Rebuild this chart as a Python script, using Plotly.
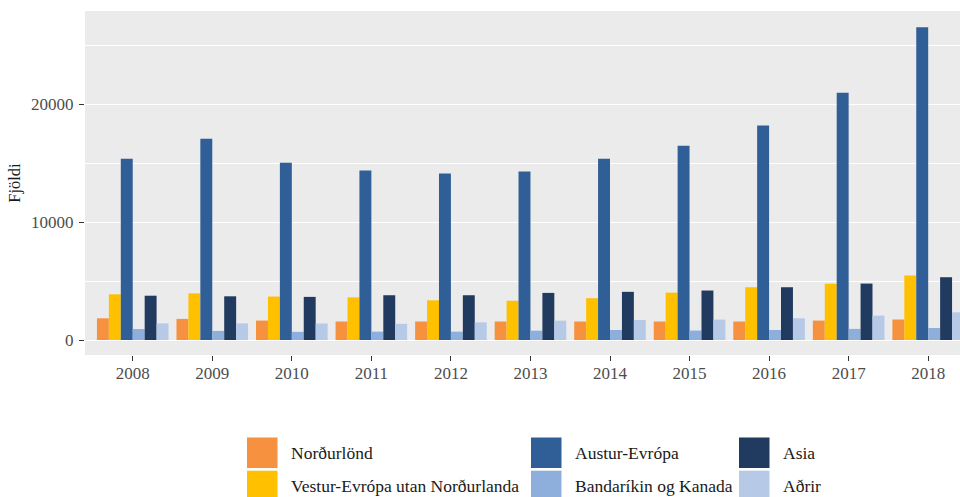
import plotly.graph_objects as go

years = ["2008", "2009", "2010", "2011", "2012", "2013", "2014", "2015", "2016", "2017", "2018"]
series_names = ["Norðurlönd", "Vestur-Evrópa utan Norðurlanda", "Austur-Evrópa",
                "Bandaríkin og Kanada", "Asia", "Aðrir"]
nordurlond = [1840, 1790, 1650, 1570, 1570, 1570, 1570, 1570, 1570, 1650, 1740]
vestur_evropa = [3880, 3960, 3690, 3620, 3370, 3330, 3550, 4020, 4480, 4780, 5470]
austur_evropa = [15380, 17080, 15040, 14380, 14130, 14300, 15380, 16500, 18200, 21000, 26550]
bandarikin = [930, 770, 690, 710, 710, 790, 850, 800, 850, 940, 1020]
asia = [3760, 3710, 3660, 3800, 3800, 4000, 4090, 4200, 4480, 4790, 5330]
adrir = [1410, 1410, 1400, 1370, 1500, 1640, 1700, 1730, 1840, 2070, 2350]
values = [nordurlond, vestur_evropa, austur_evropa, bandarikin, asia, adrir]
colors = ["#F5913F", "#FFC000", "#305E96", "#8EAEDB", "#213B60", "#B6C9E7"]
y_ticks = [0, 10000, 20000]

W, H = 960, 497
ML, MR, MT, MB = 85, 0, 11, 142

fig = go.Figure()
for name, vals, col in zip(series_names, values, colors):
    fig.add_trace(go.Bar(x=years, y=vals, name=name, marker=dict(color=col, line=dict(width=0)),
                         showlegend=False))

font_family = "Liberation Serif, Times New Roman, serif"

fig.update_layout(
    width=W, height=H,
    margin=dict(l=ML, r=MR, t=MT, b=MB),
    paper_bgcolor="white",
    plot_bgcolor="#EBEBEB",
    barmode="group", bargap=0.1, bargroupgap=0,
    font=dict(family=font_family, size=16, color="#4D4D4D"),
    xaxis=dict(type="category", range=[-0.6, 10.4], showgrid=False, zeroline=False,
               ticks="outside", ticklen=5, tickwidth=1.2, tickcolor="#333333",
               tickfont=dict(size=17, color="#4D4D4D"), showline=False,
               ticklabelstandoff=-2),
    yaxis=dict(range=[-1273, 27930], tickvals=y_ticks, ticktext=[str(v) for v in y_ticks],
               showgrid=True, gridcolor="white", gridwidth=1.1, zeroline=False,
               ticks="outside", ticklen=5, tickwidth=1.2, tickcolor="#333333",
               tickfont=dict(size=17, color="#4D4D4D"), ticklabelstandoff=2,
               minor=dict(tickvals=[5000, 15000, 25000], showgrid=True, gridcolor="white",
                          gridwidth=0.55, ticks=""),
               title=dict(text="Fjöldi", font=dict(size=16.5, color="#1A1A1A"), standoff=6)),
)

# manual legend (3 columns x 2 rows, column-major order)
plot_h = H - MT - MB
plot_w = W - ML - MR

def px_x(x):
    return (x - ML) / plot_w

def px_y(y):
    return (H - MB - y) / plot_h

col_x = [247, 531, 739]
row_y = [437.5, 470.7]
key_w, key_h = 30.5, 30.5
for i, (name, col) in enumerate(zip(series_names, colors)):
    c, r = i // 2, i % 2
    x0, y0 = col_x[c], row_y[r]
    fig.add_shape(type="rect", xref="paper", yref="paper",
                  x0=px_x(x0), x1=px_x(x0 + key_w), y0=px_y(y0), y1=px_y(y0 + key_h),
                  fillcolor=col, line=dict(width=0), layer="above")
    fig.add_annotation(xref="paper", yref="paper", x=px_x(x0 + key_w + 11.5), y=px_y(y0 + key_h / 2),
                       text=name, showarrow=False, xanchor="left", yanchor="middle",
                       font=dict(size=17.5, color="#1A1A1A", family=font_family))

fig.write_html("out.html", config={"displayModeBar": False},
               post_script="document.body.style.margin='0';document.body.style.overflow='hidden';")
